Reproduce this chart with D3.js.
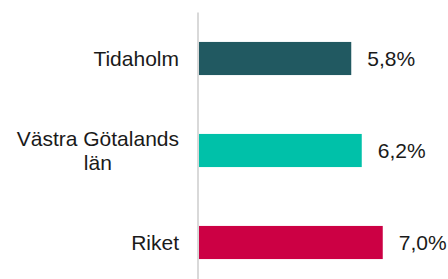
<!DOCTYPE html>
<html>
<head>
<meta charset="utf-8">
<script src="https://cdn.jsdelivr.net/npm/d3@7"></script>
<style>
  html, body { margin: 0; padding: 0; background: #fff; }
  svg { display: block; }
</style>
</head>
<body>
<div id="chart"></div>
<script>
  const categories = [['Tidaholm'], ['Västra Götalands', 'län'], ['Riket']];
  const values = [5.8, 6.2, 7.0];
  const valueLabels = ['5,8%', '6,2%', '7,0%'];
  const colors = ['#215961', '#00c1a9', '#cc0044'];

  const W = 448, H = 279;
  const axisX = 199;
  const fontSize = 21;

  let svg = d3.select('#chart')
    .append('svg')
    .attr('width', W)
    .attr('height', H);

  let data = categories.map((c, i) => ({ id: i, lines: c, value: values[i], label: valueLabels[i], color: colors[i] }));

  let xScale = d3.scaleLinear()
    .domain([0, 9])
    .range([axisX, axisX + 9 * 26.25]);

  let yScale = d3.scaleBand()
    .domain(data.map(d => d.id))
    .range([12.5, 288.5])
    .paddingInner(0.64)
    .paddingOuter(0.32);

  // bars
  svg.selectAll('.bar')
    .data(data)
    .enter()
    .append('rect')
    .attr('class', 'bar')
    .attr('x', xScale(0))
    .attr('y', d => yScale(d.id))
    .attr('width', d => xScale(d.value) - xScale(0))
    .attr('height', yScale.bandwidth())
    .style('fill', d => d.color);

  // axis line
  svg.append('line')
    .attr('x1', axisX - 1)
    .attr('x2', axisX - 1)
    .attr('y1', 12.5)
    .attr('y2', H)
    .style('stroke', '#d9d9d9')
    .style('stroke-width', 2);

  const font = 'Liberation Sans, Arial, sans-serif';

  // value labels
  svg.selectAll('.val')
    .data(data)
    .enter()
    .append('text')
    .attr('class', 'val')
    .attr('x', d => xScale(d.value) + 16)
    .attr('y', d => yScale(d.id) + yScale.bandwidth() / 2)
    .attr('dy', '0.36em')
    .style('font-family', font)
    .style('font-size', fontSize + 'px')
    .style('fill', '#1a1a1a')
    .text(d => d.label);

  // category labels: block right aligned, lines centered within block
  const lineH = 24;
  let groups = svg.selectAll('.cat')
    .data(data)
    .enter()
    .append('text')
    .attr('class', 'cat')
    .style('font-family', font)
    .style('font-size', fontSize + 'px')
    .style('fill', '#1a1a1a')
    .style('text-anchor', 'middle');

  groups.each(function (d) {
    let t = d3.select(this);
    let cy = yScale(d.id) + yScale.bandwidth() / 2;
    let spans = d.lines.map((l, i) => t.append('tspan')
      .attr('y', cy + (i - (d.lines.length - 1) / 2) * lineH)
      .attr('dy', '0.36em')
      .text(l));
    let maxW = d3.max(spans, s => s.node().getComputedTextLength());
    spans.forEach(s => s.attr('x', 179 - maxW / 2));
  });
</script>
</body>
</html>
